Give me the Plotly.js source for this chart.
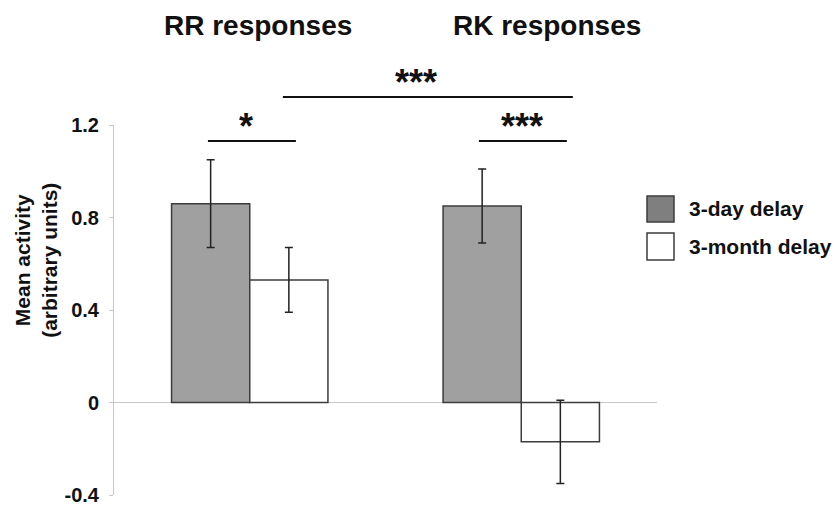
<!DOCTYPE html>
<html>
<head>
<meta charset="utf-8">
<script src="https://cdn.plot.ly/plotly-3.0.1.min.js"></script>
<style>html,body{margin:0;padding:0;background:#fff;}#chart{width:836px;height:507px;}</style>
</head>
<body>
<div id="chart"></div>
<script>
// ---- data ----
const categories = ['RR responses', 'RK responses'];
const seriesNames = ['3-day delay', '3-month delay'];
const threeDay = [0.86, 0.85];
const threeDayErr = [0.19, 0.16];
const threeMonth = [0.53, -0.17];
const threeMonthErr = [0.14, 0.18];
const yTickVals = [-0.4, 0, 0.4, 0.8, 1.2];
const yTickText = ['-0.4', '0', '0.4', '0.8', '1.2'];
const sigLabels = ['*', '***', '***'];

const FONT = 'Liberation Sans, Arial, sans-serif';
const seriesFill = ['#a0a0a0', '#ffffff'];
const legendFill = ['#7f7f7f', '#ffffff'];
const outline = '#3c3c3c';

const traces = [
  {type: 'bar', x: categories, y: threeDay, name: seriesNames[0],
   marker: {color: seriesFill[0], line: {color: outline, width: 1.5}},
   error_y: {type: 'data', array: threeDayErr, visible: true, color: '#222', thickness: 1.5, width: 4}},
  {type: 'bar', x: categories, y: threeMonth, name: seriesNames[1],
   marker: {color: seriesFill[1], line: {color: outline, width: 1.5}},
   error_y: {type: 'data', array: threeMonthErr, visible: true, color: '#222', thickness: 1.5, width: 4}}
];

const annotations = [];
const shapes = [];
// group titles
const titleX = [0.265, 0.797];
categories.forEach((c, i) => annotations.push({
  text: '<b>' + c + '</b>', xref: 'paper', yref: 'paper', x: titleX[i], y: 1.27,
  xanchor: 'center', yanchor: 'middle', showarrow: false,
  font: {family: FONT, size: 28, color: '#111'}
}));
// y title
annotations.push({
  text: '<b>Mean activity<br>(arbitrary units)</b>', xref: 'paper', yref: 'paper',
  x: -0.144, y: 0.635, xanchor: 'center', yanchor: 'middle', textangle: -90, showarrow: false,
  font: {family: FONT, size: 21, color: '#111'}
});
// significance brackets
const sig = [
  {x0: 0.173, x1: 0.335, y: 0.957, lx: 0.243, label: sigLabels[0]},
  {x0: 0.311, x1: 0.845, y: 1.0757, lx: 0.556, label: sigLabels[1]},
  {x0: 0.672, x1: 0.834, y: 0.957, lx: 0.751, label: sigLabels[2]}
];
sig.forEach(s => {
  shapes.push({type: 'line', xref: 'paper', yref: 'paper', x0: s.x0, x1: s.x1, y0: s.y, y1: s.y,
    line: {color: '#111', width: 2}});
  annotations.push({text: '<b>' + s.label + '</b>', xref: 'paper', yref: 'paper', x: s.lx, y: s.y,
    xanchor: 'center', yanchor: 'bottom', yshift: -8, showarrow: false,
    font: {family: FONT, size: 36, color: '#111'}});
});
// custom legend
const legY = [[0.808, 0.738], [0.708, 0.635]];
seriesNames.forEach((n, i) => {
  shapes.push({type: 'rect', xref: 'paper', yref: 'paper', x0: 0.9816, x1: 1.0313,
    y0: legY[i][1], y1: legY[i][0], fillcolor: legendFill[i], line: {color: outline, width: 1.5}});
  annotations.push({text: '<b>' + n + '</b>', xref: 'paper', yref: 'paper', x: 1.055,
    y: (legY[i][0] + legY[i][1]) / 2, xanchor: 'left', yanchor: 'middle', showarrow: false,
    font: {family: FONT, size: 21, color: '#111'}});
});

const layout = {
  width: 836, height: 507,
  margin: {l: 114, r: 179, t: 125, b: 12},
  paper_bgcolor: '#fff', plot_bgcolor: '#fff',
  showlegend: false,
  barmode: 'group', bargap: 0.424, bargroupgap: 0,
  xaxis: {range: [-0.5, 1.5], showticklabels: false, showline: false, showgrid: false,
    zeroline: false, ticks: ''},
  yaxis: {range: [-0.4, 1.2], tickvals: yTickVals, ticktext: yTickText, showgrid: false,
    showline: true, linecolor: '#c8c8c8', linewidth: 1, ticks: 'outside', ticklen: 4,
    tickcolor: '#c8c8c8', zeroline: true, zerolinecolor: '#c8c8c8', zerolinewidth: 1.2,
    tickfont: {family: FONT, size: 20, color: '#111', weight: 'bold'}, ticklabelstandoff: 6},
  annotations: annotations,
  shapes: shapes,
  font: {family: FONT}
};

Plotly.newPlot('chart', traces, layout, {staticPlot: true, displayModeBar: false});
</script>
</body>
</html>
